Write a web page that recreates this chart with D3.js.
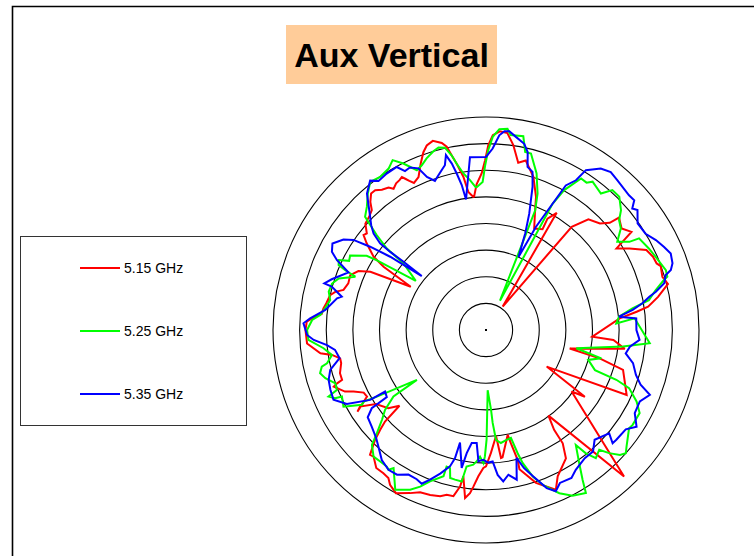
<!DOCTYPE html>
<html><head><meta charset="utf-8">
<script src="https://cdn.jsdelivr.net/npm/d3@7"></script>
<style>html,body{margin:0;padding:0;background:#fff;}svg{display:block;}</style>
</head><body>
<svg id="chart" width="754" height="556"></svg>
<script>
// Polar pattern, angle in degrees (0 = top, clockwise), level in dB
const title = "Aux Vertical";
const seriesNames = ["5.15 GHz", "5.25 GHz", "5.35 GHz"];
const seriesColors = ["#ff0000", "#00ff00", "#0000ff"];
const ringLevels = [-35, -30, -25, -20, -15, -10, -5, 0];
const dbMin = -40, dbMax = 0;

const red515 = [[354.8,-15.0],[356.3,-12.6],[358.4,-10.6],[359.7,-8.1],[0.7,-5.3],[2.0,-3.4],[4.0,-2.6],[6.2,-2.8],[8.4,-4.9],[10.9,-8.0],[13.2,-7.3],[17.2,-9.9],[20.6,-13.3],[22.8,-16.3],[25.4,-18.9],[29.3,-18.3],[28.9,-16.1],[31.1,-14.3],[35.5,-34.6],[39.7,-14.8],[42.8,-11.7],[46.9,-10.7],[49.1,-9.25],[49.8,-7.3],[53.2,-8.2],[56.0,-7.05],[58.0,-11.1],[60.4,-9.0],[63.5,-6.35],[66.3,-5.75],[68.7,-5.6],[69.9,-5.06],[73.2,-5.4],[75.8,-4.75],[79.1,-7.1],[81.8,-9.25],[83.1,-11.5],[85.0,-14.8],[93.6,-20.0],[94.5,-16.0],[97.7,-13.7],[102.5,-23.9],[104.0,-18.0],[106.2,-13.2],[114.8,-10.9],[121.1,-26.7],[124.0,-17.6],[125.7,-20.2],[136.7,-2.2],[143.9,-20.1],[145.7,-17.3],[145.9,-14.3],[148.1,-11.6],[153.9,-9.4],[156.4,-7.25],[161.9,-9.8],[166.5,-13.1],[166.3,-14.9],[167.6,-18.2],[168.3,-19.9],[172.6,-15.9],[173.3,-15.8],[174.6,-20.0],[177.7,-16.9],[180,-14.4],[181.1,-14.1],[183.0,-12.5],[184.6,-10.5],[185.6,-9.2],[187.1,-8.2],[188.8,-12.2],[189.4,-10.2],[191.1,-8.2],[193.4,-8.2],[195.4,-7.6],[198.7,-7.3],[202.1,-7.1],[205.0,-6.2],[208.9,-5.0],[211.8,-5.8],[213.4,-6.7],[215.6,-6.9],[218.5,-6.9],[221.6,-8.2],[222.9,-8.0],[225.3,-10.7],[226.7,-12.7],[227.8,-14.4],[228.8,-18.4],[231.3,-16.5],[236.1,-15.1],[238.7,-12.3],[237.6,-11.4],[240.8,-14.4],[242.9,-14.2],[245.1,-12.6],[246.4,-11.1],[249.6,-9.5],[250.3,-10.3],[250.9,-11.4],[253.5,-11.4],[257.1,-12.1],[259.0,-12.1],[260.8,-10.7],[262.0,-8.6],[265.7,-6.3],[270,-6.1],[272.7,-6.3],[274.5,-7.8],[275.6,-9.0],[277.6,-9.2],[279.5,-9.6],[282.6,-10.0],[284.2,-10.8],[285.7,-12.2],[288.7,-12.7],[292.0,-12.5],[294.8,-13.6],[296.7,-15.7],[299.9,-23.7],[301.7,-17.4],[303.1,-14.8],[306.0,-12.3],[307.8,-10.9],[309.0,-11.2],[311.4,-9.8],[314.3,-9.4],[316.4,-8.9],[317.9,-7.6],[319.9,-6.5],[321.6,-6.5],[323.4,-7.2],[325.6,-7.6],[326.8,-8.3],[328.5,-7.7],[330.0,-7.5],[331.2,-7.2],[331.9,-7.8],[332.8,-8.5],[333.9,-9.25],[336.2,-8.6],[338.6,-6.4],[340.6,-4.6],[342.2,-3.6],[344.3,-3.1],[346.7,-3.9],[347.9,-4.8],[348.9,-6.6],[350.0,-8.3],[351.6,-10.9],[352.7,-13.85],[354.8,-15.0]];

const green525 = [[356.0,-13.2],[358.7,-12.2],[359.7,-9.1],[0.7,-6.25],[2.0,-3.7],[3.8,-2.2],[6.1,-2.0],[7.2,-3.1],[10.9,-2.95],[12.4,-5.75],[14.3,-5.8],[17.9,-9.1],[20.7,-12.6],[22.35,-15.7],[25.5,-33.9],[27.8,-13.2],[29.2,-9.9],[32.1,-6.4],[34.3,-6.5],[35.7,-5.7],[40.1,-6.5],[42.1,-4.6],[45.0,-4.6],[48.4,-6.1],[50.5,-7.6],[53.0,-8.3],[56.1,-10.3],[58.4,-8.4],[59.1,-6.5],[63.4,-5.8],[66.7,-5.3],[69.1,-4.9],[71.6,-4.4],[73.6,-4.5],[74.3,-5.3],[76.8,-7.3],[79.6,-8.9],[81.6,-12.2],[84.3,-14.9],[87.1,-15.5],[85.5,-12.0],[94.6,-9.15],[96.9,-14.1],[101.4,-22.7],[103.8,-17.7],[106.3,-20.0],[110.2,-18.2],[110.9,-13.8],[112.1,-11.0],[115.4,-8.7],[118.4,-7.2],[122.9,-7.2],[124.5,-7.4],[129.7,-5.7],[131.4,-5.0],[133.0,-5.6],[135,-7.3],[136.6,-9.05],[139.4,-8.3],[141.0,-10.2],[142.0,-12.6],[145.0,-9.5],[147.2,-6.5],[148.5,-4.1],[152.4,-4.9],[155.8,-6.4],[157.4,-7.5],[159.9,-9.05],[162.3,-11.1],[164.6,-14.1],[165.6,-16.1],[167.0,-19.2],[169.7,-19.0],[172.5,-18.6],[174.8,-19.3],[175.9,-22.5],[176.4,-25.0],[178.4,-28.7],[179.7,-19.4],[180.5,-16.25],[181.1,-15.0],[182.7,-16.2],[184.1,-15.25],[185.4,-14.6],[188.1,-14.1],[188.8,-12.2],[189.1,-11.2],[191.7,-11.3],[193.6,-11.4],[194.6,-13.2],[196.1,-13.3],[196.2,-11.4],[200.3,-9.7],[202.8,-8.1],[205.4,-6.8],[209.6,-5.5],[213.8,-8.8],[214.9,-8.0],[216.0,-8.3],[218.8,-8.3],[221.6,-8.2],[224.8,-9.6],[226.6,-11.8],[229.2,-14.2],[231.6,-15.8],[234.3,-18.6],[234.2,-24.0],[238.6,-16.0],[239.7,-13.4],[238.9,-12.8],[241.7,-9.6],[245.2,-10.2],[245.7,-8.9],[247.1,-7.9],[248.1,-9.8],[250.5,-10.0],[253.3,-8.5],[255.4,-7.8],[257.4,-8.4],[258.2,-9.5],[260.8,-10.7],[263.6,-9.3],[266.8,-6.6],[270,-6.4],[273.3,-7.3],[275.2,-8.75],[277.7,-9.5],[280.9,-10.2],[283.7,-9.6],[286.8,-9.8],[289.3,-10.7],[292.2,-13.5],[293.0,-11.3],[293.8,-9.75],[295.4,-9.4],[296.8,-11.2],[298.7,-10.9],[301.9,-13.6],[302.6,-15.7],[305.0,-23.9],[308.9,-20.1],[309.4,-15.9],[311.0,-12.8],[312.2,-10.7],[313.1,-8.9],[316.0,-7.8],[319.1,-6.1],[322.0,-4.7],[325.3,-5.05],[328.9,-4.6],[331.2,-3.6],[333.6,-5.1],[336.6,-7.3],[338.7,-6.8],[340.9,-5.9],[343.6,-5.0],[345.4,-4.6],[347.3,-4.9],[348.9,-6.6],[350.0,-8.3],[351.8,-10.3],[353.9,-11.7],[356.0,-13.2]];

const blue535 = [[351.3,-15.2],[354.7,-7.4],[0,-7.5],[2.1,-5.9],[3.9,-3.35],[5.3,-2.5],[6.7,-2.4],[8.8,-3.3],[11.6,-4.3],[13.2,-5.7],[14.3,-8.4],[16.4,-9.05],[18.0,-11.7],[20.4,-16.7],[22.1,-20.4],[24.0,-25.0],[25.8,-18.5],[27.8,-13.2],[28.9,-9.0],[31.0,-7.2],[32.0,-4.6],[35.4,-2.8],[38.3,-2.2],[41.3,-2.6],[46.7,-3.1],[48.8,-3.0],[50.3,-4.3],[51.6,-3.7],[54.9,-5.2],[58.9,-5.0],[62.1,-3.9],[65.0,-3.1],[67.5,-2.45],[70.3,-2.8],[72.0,-3.5],[73.0,-4.7],[75.3,-5.4],[77.3,-7.3],[78.5,-8.7],[80.3,-10.2],[82.2,-12.2],[84.3,-14.9],[85.6,-11.7],[90,-11.75],[93.7,-11.1],[96.6,-12.8],[99.5,-13.4],[102.7,-11.7],[106.7,-10.6],[109.5,-9.2],[111.6,-6.9],[114.9,-8.15],[119.2,-8.0],[122.7,-6.4],[125.4,-7.8],[130.1,-8.0],[131.8,-8.1],[130.0,-9.8],[135.3,-11.0],[138.6,-9.6],[142.4,-9.6],[147.3,-8.8],[150.0,-7.9],[154.2,-8.1],[156.6,-7.0],[159.0,-8.2],[162.1,-11.1],[164.6,-13.1],[166.6,-15.3],[168.4,-11.3],[171.2,-12.5],[173.5,-11.4],[175.4,-12.7],[177.1,-15.3],[179.0,-15.1],[181.2,-15.6],[183.3,-15.3],[184.7,-18.7],[187.2,-18.6],[188.9,-16.6],[190.0,-13.7],[193.0,-18.3],[193.6,-15.2],[194.8,-13.5],[197.7,-11.7],[200.5,-10.0],[202.7,-8.7],[204.9,-9.1],[208.2,-9.2],[211.6,-8.1],[214.9,-8.0],[218.7,-8.7],[222.7,-10.2],[225.4,-11.05],[229.8,-11.9],[233.6,-12.4],[235.6,-14.0],[235.9,-17.5],[238.6,-17.8],[238.9,-14.6],[242.0,-10.4],[245.4,-8.5],[249.0,-8.7],[252.4,-9.0],[255.6,-9.8],[259.1,-12.0],[262.5,-11.4],[264.6,-10.0],[266.7,-7.6],[268.4,-6.4],[272.1,-5.7],[273.8,-6.9],[277.1,-9.6],[282.0,-11.4],[283.0,-12.2],[285.7,-9.9],[286.1,-8.4],[288.2,-9.5],[292.7,-12.0],[294.2,-10.3],[295.1,-9.1],[296.9,-7.55],[299.4,-6.9],[302.4,-8.3],[304.2,-9.9],[305.7,-13.2],[307.4,-17.35],[310.0,-24.25],[309.6,-19.9],[309.2,-16.8],[309.3,-14.3],[310.6,-12.2],[312.4,-10.8],[314.3,-9.6],[318.9,-6.0],[322.2,-4.5],[324.2,-5.5],[327.6,-5.2],[331.3,-5.1],[333.0,-6.5],[334.9,-6.3],[337.3,-7.1],[338.9,-9.2],[341.1,-10.4],[342.9,-9.6],[345.0,-8.6],[346.0,-8.1],[347.1,-6.3],[348.4,-8.1],[349.4,-10.1],[350.5,-12.4],[351.3,-15.2]];

const seriesData = [red515, green525, blue535];

const svg = d3.select("#chart");
const W = 754, H = 556;
const cx = 486, cy = 330, R = 213;

// Frame (left and top edges)
svg.append("path").attr("d", `M12.5,${H} L12.5,6.5 L${W},6.5`)
  .attr("fill", "none").attr("stroke", "#000").attr("stroke-width", 1.6);

// Title
const tg = svg.append("g");
tg.append("rect").attr("x", 286).attr("y", 25).attr("width", 211).attr("height", 59).attr("fill", "#ffcc99");
tg.append("text").attr("x", 391.5).attr("y", 67).attr("text-anchor", "middle")
  .attr("font-family", "'Liberation Sans', Arial, sans-serif").attr("font-weight", "bold")
  .attr("font-size", 34).attr("fill", "#000").text(title);

// Radial scale
const rScale = d3.scaleLinear().domain([dbMin, dbMax]).range([0, R]);
const g = svg.append("g").attr("transform", `translate(${cx},${cy})`);

g.selectAll("circle.ring").data(ringLevels).enter().append("circle")
  .attr("class", "ring").attr("r", d => rScale(d))
  .attr("fill", "none").attr("stroke", "#000").attr("stroke-width", 1.1);
g.append("rect").attr("x", -1).attr("y", -1).attr("width", 2).attr("height", 2).attr("fill", "#000");

const line = d3.lineRadial()
  .angle(d => d[0] * Math.PI / 180)
  .radius(d => rScale(Math.max(dbMin, d[1])));

seriesData.forEach((s, i) => {
  g.append("path").datum(s).attr("d", line)
    .attr("fill", "none").attr("stroke", seriesColors[i])
    .attr("stroke-width", 2).attr("stroke-linejoin", "miter").attr("stroke-miterlimit", 3);
});

// Legend
const lg = svg.append("g");
lg.append("rect").attr("x", 20.5).attr("y", 236.5).attr("width", 226).attr("height", 189)
  .attr("fill", "#fff").attr("stroke", "#333").attr("stroke-width", 1);
const legY = d3.scalePoint().domain(seriesNames).range([268, 394]);
seriesNames.forEach((n, i) => {
  lg.append("line").attr("x1", 80).attr("x2", 120).attr("y1", legY(n)).attr("y2", legY(n))
    .attr("stroke", seriesColors[i]).attr("stroke-width", 2);
  lg.append("text").attr("x", 124).attr("y", legY(n) + 5)
    .attr("font-family", "'Liberation Sans', Arial, sans-serif").attr("font-size", 14)
    .attr("fill", "#000").text(n);
});
</script>
</body></html>
